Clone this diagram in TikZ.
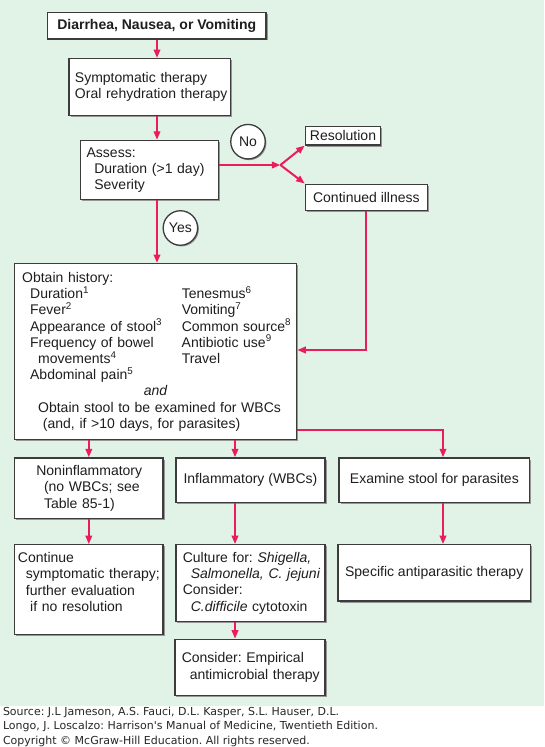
\documentclass[tikz,border=0pt]{standalone}
\usepackage{fontspec}
\setmainfont{Liberation Sans}
\newfontfamily\footfont{DejaVu Sans}
\usetikzlibrary{arrows.meta,shadows,calc}
\definecolor{bggreen}{RGB}{225,242,231}
\definecolor{arrowred}{RGB}{234,28,92}
\definecolor{boxline}{RGB}{60,60,60}
\definecolor{shadowgray}{RGB}{150,150,150}
\definecolor{txt}{RGB}{30,30,30}
\frenchspacing
\begin{document}
\frenchspacing
\begin{tikzpicture}[x=1pt,y=-1pt,
  box/.style={draw=boxline, line width=1.3pt, fill=white, text=txt,
    drop shadow={shadow xshift=1.6pt,shadow yshift=-1.6pt,fill=shadowgray,opacity=1},
    anchor=north west, inner xsep=3pt, inner ysep=0pt,
    font=\fontsize{14}{16.2}\selectfont\frenchspacing},
  lbox/.style={box, align=left},
  circ/.style={circle, draw=boxline, line width=1.3pt, fill=white, text=txt,
    drop shadow={shadow xshift=1.2pt,shadow yshift=-1.2pt,fill=shadowgray,opacity=1},
    minimum size=34.5pt, inner sep=0pt, font=\fontsize{14}{16.2}\selectfont},
  arr/.style={draw=arrowred, line width=2pt, -{Triangle[length=8.5pt,width=6.5pt]}},
  foot/.style={anchor=north west, align=left, inner sep=0pt, text=black!85,
    font=\footfont\fontsize{11}{14.4}\selectfont\frenchspacing}
]
\useasboundingbox (0,0) rectangle (544,747);
\fill[bggreen] (0,0) rectangle (544,705.6);

% top
\node[box, minimum width=218.6pt, minimum height=26.1pt, font=\fontsize{14}{16.2}\selectfont\bfseries] (t1) at (46.8,12.1) {Diarrhea, Nausea, or Vomiting};
\node[lbox, minimum width=161.6pt, minimum height=56.5pt, text width=155.6pt] (t2) at (68.4,58)
  {\hspace*{2.9pt}Symptomatic therapy\\\hspace*{2.9pt}Oral rehydration therapy};
\node[lbox, minimum width=138.1pt, minimum height=59.3pt, text width=132.1pt] (assess) at (79.8,139.8)
  {\hspace*{3.2pt}Assess:\\\hspace*{10.9pt}Duration (>1 day)\\\hspace*{10.9pt}Severity};
\node[box, minimum width=75.3pt, minimum height=18.7pt] (res) at (304.7,125.6) {Resolution};
\node[box, minimum width=122.1pt, minimum height=26pt] (cont) at (304.7,183.5) {Continued illness};

\node[circ] (no) at (248,141.7) {No};
\node[circ] (yes) at (180.4,228) {Yes};

% history
\node[lbox, minimum width=282.1pt, minimum height=176.1pt, text width=276.1pt] (hist) at (13.9,263) {%
\hspace*{4.6pt}Obtain history:\\
\hspace*{12.6pt}\makebox[151.6pt][l]{Duration\textsuperscript{1}}Tenesmus\textsuperscript{6}\\
\hspace*{12.6pt}\makebox[151.6pt][l]{Fever\textsuperscript{2}}Vomiting\textsuperscript{7}\\
\hspace*{12.6pt}\makebox[151.6pt][l]{Appearance of stool\textsuperscript{3}}Common source\textsuperscript{8}\\
\hspace*{12.6pt}\makebox[151.6pt][l]{Frequency of bowel}Antibiotic use\textsuperscript{9}\\
\hspace*{12.6pt}\makebox[151.6pt][l]{\hspace*{8pt}movements\textsuperscript{4}}Travel\\
\hspace*{12.6pt}Abdominal pain\textsuperscript{5}\\
\makebox[276.1pt][c]{\itshape and}\\
\hspace*{20.6pt}Obtain stool to be examined for WBCs\\
\hspace*{25.4pt}(and, if >10 days, for parasites)};

% second row
\node[lbox, minimum width=148.5pt, minimum height=60.8pt, text width=142.5pt] (non) at (13.9,457.3)
  {\hspace*{18.8pt}Noninflammatory\\\hspace*{26.5pt}(no WBCs; see\\\hspace*{26.5pt}Table 85-1)};
\node[box, minimum width=149.2pt, minimum height=44.5pt] (infl) at (175.2,457.3) {Inflammatory (WBCs)};
\node[box, minimum width=190.8pt, minimum height=44.5pt] (exam) at (338.3,457.3) {Examine stool for parasites};

% third row
\node[lbox, minimum width=148.5pt, minimum height=89.5pt, text width=142.5pt] (cont2) at (13.9,544.1)
  {\hspace*{0.4pt}Continue\\\hspace*{8.4pt}symptomatic therapy;\\\hspace*{8.4pt}further evaluation\\\hspace*{12.6pt}if no resolution\par\vspace*{15pt}};
\node[lbox, minimum width=149.2pt, minimum height=77pt, text width=143.2pt] (cult) at (175.2,544.1)
  {\hspace*{4pt}Culture for: \textit{Shigella,}\\\hspace*{11.9pt}\textit{Salmonella, C. jejuni}\\\hspace*{4pt}Consider:\\\hspace*{11.9pt}\textit{C.difficile} cytotoxin};
\node[box, minimum width=192.5pt, minimum height=56.2pt] (spec) at (337.3,544.1) {Specific antiparasitic therapy};

\node[lbox, minimum width=150.2pt, minimum height=56.2pt, text width=144.2pt] (consid) at (174.2,638.7)
  {\hspace*{3.9pt}Consider: Empirical\\\hspace*{11.9pt}antimicrobial therapy};

% helper coordinates
\coordinate (sx) at (157,0);
\coordinate (br) at (280.4,165);
\coordinate (cy) at (0,350);
\coordinate (mx) at (235,0);
\coordinate (rx) at (443,429.5);

% connectors
\draw[arr] (t1.south -| sx) -- (t2.north -| sx);
\draw[arr] (t2.south -| sx) -- (assess.north -| sx);
\draw[arr] (assess.south -| sx) -- (hist.north -| sx);
\draw[arr] (assess.east |- br) -- (br);
\draw[arr] (br) -- (res.south west);
\draw[arr] (br) -- (cont.north west);
\draw[arr] (cont.south) |- (hist.east |- cy);
\draw[arr] (hist.south -| non.north) -- (non.north);
\draw[arr] (hist.south -| mx) -- (infl.north -| mx);
\draw[arr] (hist.east |- rx) -| (exam.north -| rx);
\draw[arr] (non.south) -- (cont2.north);
\draw[arr] (infl.south -| mx) -- (cult.north -| mx);
\draw[arr] (exam.south -| rx) -- (spec.north -| rx);
\draw[arr] (cult.south -| mx) -- (consid.north -| mx);

% footer
\node[foot] (src) at (2.8,707) {Source: J.L Jameson, A.S. Fauci, D.L. Kasper, S.L. Hauser, D.L.\\
Longo, J. Loscalzo: Harrison's Manual of Medicine, Twentieth Edition.\\
Copyright \textcopyright{} McGraw-Hill Education. All rights reserved.};
\end{tikzpicture}
\end{document}
